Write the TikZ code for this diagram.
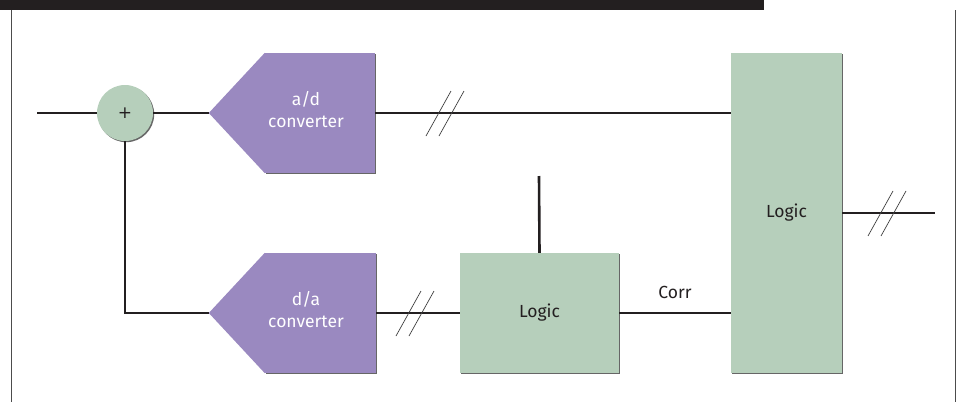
\documentclass[tikz,border=0pt]{standalone}
\usepackage{fontspec}
\setmainfont{Fira Sans}
\newfontfamily\plusfont{DejaVu Sans}
\usetikzlibrary{shadows}
\definecolor{pur}{HTML}{9A89C0}
\definecolor{grn}{HTML}{B6CFBB}
\definecolor{ink}{HTML}{231F20}
\tikzset{
  shad/.style={general shadow={fill=black!60, shadow xshift=1.2pt, shadow yshift=-1.2pt}},
  logicbox/.style={fill=grn, inner sep=0pt, shad, text=ink, font=\fontsize{17.5}{20}\selectfont},
  convbox/.style={fill=pur, inner sep=0pt, shad},
  convtext/.style={text=white, align=center, font=\fontsize{17.5}{22}\selectfont, inner sep=0pt},
  sumnode/.style={circle, fill=grn, minimum size=56pt, inner sep=0pt, shad, text=ink},
  wire/.style={draw=ink, line width=1.5pt},
  thickwire/.style={draw=ink, line width=2.6pt},
  slash/.style={draw=black!75, line width=0.7pt},
  frame/.style={draw=black!70, line width=1pt},
  busmark/.pic={\draw[slash] (-19,23) -- (6,-22); \draw[slash] (-6,23) -- (19,-22);}
}
\begin{document}
\begin{tikzpicture}[x=1pt,y=-1pt]
\useasboundingbox (0,0) rectangle (959,402);
\fill[ink] (0,0) rectangle (764,10);
\draw[frame] (11,10) -- (11,402);
\draw[frame] (955,10) -- (955,402);

% nodes
\node[sumnode] (sum) at (125,113) {\fontsize{17}{20}\selectfont\plusfont +};
\node[convbox, minimum width=110pt, minimum height=120pt] (ad) at (320,113) {};
\fill[pur] (ad.north west) -- ([xshift=-56pt]ad.west) -- (ad.south west) -- cycle;
\coordinate (adtip) at ([xshift=-56pt]ad.west);
\node[convtext] (adtext) at (306,110) {a/d\\converter};

\node[convbox, minimum width=111pt, minimum height=120pt] (da) at (320.5,313) {};
\fill[pur] (da.north west) -- ([xshift=-56pt]da.west) -- (da.south west) -- cycle;
\coordinate (datip) at ([xshift=-56pt]da.west);
\node[convtext] (datext) at (306,310) {d/a\\converter};

\node[logicbox, minimum width=159pt, minimum height=120pt] (L) at (539.5,313) {Logic};
\node[logicbox, minimum width=111pt, minimum height=320pt] (R) at (786.5,213) {Logic};

\coordinate (in) at (37,113);
\coordinate (top) at (539,176);
\coordinate (out) at (935,213);

% connectors
\draw[wire] (in) -- (sum.west);
\draw[wire] (sum.east) -- (adtip);
\draw[wire] (ad.east) -- (R.west |- ad.east);
\draw[wire] (sum.south) |- (datip);
\draw[wire] (da.east) -- (L.west);
\draw[wire] (L.east) -- node[midway, above=13.5pt, inner sep=0pt, text=ink, font=\fontsize{17.5}{20}\selectfont] (corr) {Corr} (R.west |- L.east);
\draw[thickwire] (L.north) -- (top);
\draw[wire] (R.east) -- (out);

% bus marks
\pic at (445,113) {busmark};
\pic at (415,313) {busmark};
\pic at (887,213) {busmark};
\end{tikzpicture}
\end{document}
